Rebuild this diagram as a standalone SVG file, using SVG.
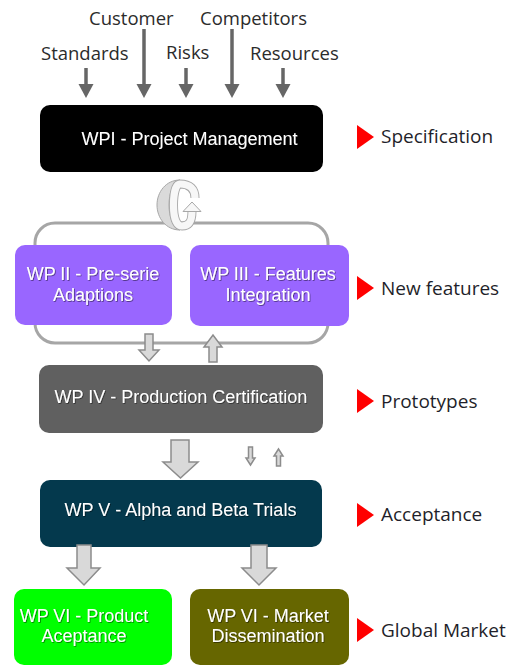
<svg xmlns="http://www.w3.org/2000/svg" width="518" height="666" viewBox="0 0 518 666">
  <defs>
    <style>
      .inp { font-family: "Open Sans", "Noto Sans", sans-serif; font-size: 18.5px; fill: #2b2b2b; }
      .stage { font-family: "Open Sans", "Noto Sans", sans-serif; font-size: 19px; fill: #1f1f2a; }
      .box-label { font-family: "Liberation Sans", Arial, sans-serif; font-size: 18px; fill: #ffffff; text-anchor: middle; filter: url(#txtShadow); }
      .in-line { stroke: #666666; stroke-width: 3.5; fill: none; }
      .in-head { fill: #666666; }
      .block { fill: #d9d9d9; stroke: #8c8c8c; stroke-width: 1.5; stroke-linejoin: miter; }
      .tri { fill: #ff0000; }
    </style>
    <filter id="txtShadow" x="-10%" y="-30%" width="120%" height="160%">
      <feDropShadow dx="0.8" dy="0.8" stdDeviation="0.5" flood-color="#000000" flood-opacity="0.55"/>
    </filter>
  </defs>

  <rect width="518" height="666" fill="#ffffff"/>

  <!-- input labels -->
  <g id="inputs">
    <text class="inp" x="89" y="25">Customer</text>
    <text class="inp" x="200" y="25">Competitors</text>
    <text class="inp" x="41" y="60">Standards</text>
    <text class="inp" x="166" y="59">Risks</text>
    <text class="inp" x="250" y="60">Resources</text>
  </g>

  <!-- loop container around WP II / WP III -->
  <g id="loop">
    <rect x="35" y="223" width="293" height="120" rx="20" ry="20" fill="none" stroke="#a6a6a6" stroke-width="3"/>
  </g>

  <!-- circular iteration icon -->
  <g id="cycle-icon">
    <path d="M180,180 C166,180 157,192 157,205 C157,218 166,230 180,230 C173,228 169,217 169,205 C169,193 173,182 180,180 Z" fill="#dadada" stroke="#a8a8a8" stroke-width="1"/>
    <path d="M195,198 C195,189 190,184 180,184 C176,184 173.5,193 173.5,205 C173.5,217 176,226 182,226 C189,226 192,222 192,211" fill="none" stroke="#a8a8a8" stroke-width="9"/>
    <path d="M195,198 C195,189 190,184 180,184 C176,184 173.5,193 173.5,205 C173.5,217 176,226 182,226 C189,226 192,222 192,211" fill="none" stroke="#f7f7f7" stroke-width="7.2"/>
    <polygon points="183,211.5 192,202 201,211.5" fill="#f7f7f7" stroke="#a8a8a8" stroke-width="1"/>
  </g>

  <!-- work packages -->
  <g id="wp1">
    <rect x="40" y="105" width="283" height="67" rx="10" ry="10" fill="#000000"/>
    <text class="box-label" x="189.5" y="145">WPI - Project Management</text>
  </g>

  <g id="wp2">
    <rect x="15" y="245" width="157" height="80" rx="10" ry="10" fill="#9966ff"/>
    <text class="box-label" x="93" y="280">WP II - Pre-serie</text>
    <text class="box-label" x="93" y="301">Adaptions</text>
  </g>

  <g id="wp3">
    <rect x="190" y="245" width="159" height="81" rx="10" ry="10" fill="#9966ff"/>
    <text class="box-label" x="268" y="280">WP III - Features</text>
    <text class="box-label" x="268" y="301">Integration</text>
  </g>

  <g id="wp4">
    <rect x="39" y="365" width="284" height="68" rx="10" ry="10" fill="#606060"/>
    <text class="box-label" x="181" y="403">WP IV - Production Certification</text>
  </g>

  <g id="wp5">
    <rect x="40" y="480" width="282" height="67" rx="10" ry="10" fill="#04394d"/>
    <text class="box-label" x="180.5" y="516">WP V - Alpha and Beta Trials</text>
  </g>

  <g id="wp6a">
    <rect x="14" y="589" width="158" height="76" rx="10" ry="10" fill="#00ff00"/>
    <text class="box-label" x="84" y="622">WP VI - Product</text>
    <text class="box-label" x="84" y="642">Aceptance</text>
  </g>

  <g id="wp6b">
    <rect x="190" y="589" width="159" height="76" rx="10" ry="10" fill="#666600"/>
    <text class="box-label" x="268" y="622">WP VI - Market</text>
    <text class="box-label" x="268" y="642">Dissemination</text>
  </g>

  <!-- connectors -->
  <g id="connectors">
    <!-- inputs into WPI -->
    <line class="in-line" x1="86" y1="68" x2="86" y2="85"/>
    <polygon class="in-head" points="78.5,84 93.5,84 86,98"/>
    <line class="in-line" x1="144" y1="29" x2="144" y2="85"/>
    <polygon class="in-head" points="136.5,84 151.5,84 144,98"/>
    <line class="in-line" x1="186" y1="68" x2="186" y2="85"/>
    <polygon class="in-head" points="178.5,84 193.5,84 186,98"/>
    <line class="in-line" x1="232" y1="29" x2="232" y2="85"/>
    <polygon class="in-head" points="224.5,84 239.5,84 232,98"/>
    <line class="in-line" x1="283" y1="68" x2="283" y2="85"/>
    <polygon class="in-head" points="275.5,84 290.5,84 283,98"/>

    <!-- loop to WP IV and back -->
    <polygon class="block" points="145,334 153,334 153,350 159,350 149,361 139,350 145,350"/>
    <polygon class="block" points="209,362 217,362 217,347 222,347 213,335 204,347 209,347"/>

    <!-- WP IV to WP V -->
    <polygon class="block" points="171,440 189,440 189,462 198,462 180.5,478 163,462 171,462"/>
    <polygon class="block" points="248.5,447 252.5,447 252.5,458 255,458 250.5,465 246,458 248.5,458"/>
    <polygon class="block" points="276.5,466 280.5,466 280.5,456 283,456 278.5,449 274,456 276.5,456"/>

    <!-- WP V to WP VI -->
    <polygon class="block" points="77,545 91,545 91,568 100,568 84,585 67,568 77,568"/>
    <polygon class="block" points="251,545 267,545 267,568 276,568 259,585 242,568 251,568"/>
  </g>

  <!-- stage markers -->
  <g id="stages">
    <polygon class="tri" points="357,125 374,137 357,149"/>
    <text class="stage" x="381" y="143">Specification</text>
    <polygon class="tri" points="357,276 374,288 357,300"/>
    <text class="stage" x="381" y="295">New features</text>
    <polygon class="tri" points="357,389 374,401 357,413"/>
    <text class="stage" x="381" y="408">Prototypes</text>
    <polygon class="tri" points="357,503 374,515 357,527"/>
    <text class="stage" x="381" y="521">Acceptance</text>
    <polygon class="tri" points="357,618 374,630 357,642"/>
    <text class="stage" x="381" y="637">Global Market</text>
  </g>
</svg>
